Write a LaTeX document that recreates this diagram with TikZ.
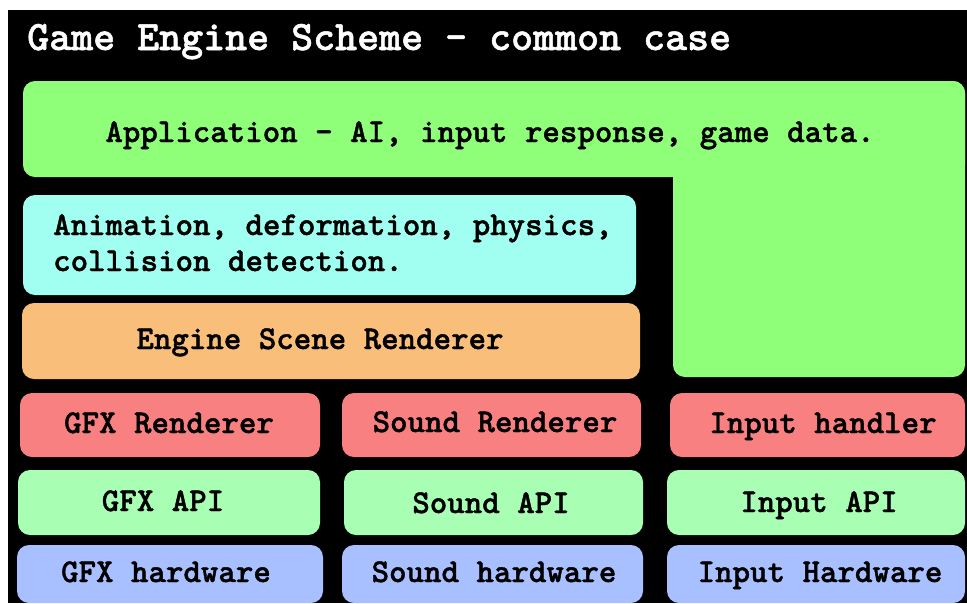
\documentclass[tikz,border=0pt]{standalone}
\usepackage{fontspec}
\newfontfamily\courb{lmmonolt10-bold.otf}[FakeBold=1.2]
\newcommand\lblfont{\courb\fontsize{33.3}{36}\selectfont}
\newcommand\ttlfont{\courb\fontsize{41.9}{44}\selectfont}
\definecolor{appg}{RGB}{143,255,122}
\definecolor{animc}{RGB}{160,255,240}
\definecolor{engo}{RGB}{248,190,122}
\definecolor{rendr}{RGB}{248,128,128}
\definecolor{apig}{RGB}{168,255,180}
\definecolor{hwb}{RGB}{168,192,255}
\begin{document}
\begin{tikzpicture}[x=1pt,y=-1pt,
  blk/.style={rounded corners=12pt, inner sep=0pt},
  lbl/.style={inner sep=0pt, font=\lblfont, text=black, anchor=base}]
\useasboundingbox (0,0) rectangle (967,603);
\fill[white] (0,0) rectangle (967,603);
\fill[black] (8,10) rectangle (967,603);
% title
\node[inner sep=0pt, font=\ttlfont, text=white, anchor=base west] (title) at (27,50) {Game Engine Scheme - common case};
% application L-shape
\fill[appg, rounded corners=12pt] (23,81) rectangle (965,177);
\fill[appg, rounded corners=12pt] (673,81) rectangle (965,377);
\node[lbl] (app) at (490,142) {Application - AI, input response, game data.};
% animation
\node[blk, fill=animc, minimum width=613pt, minimum height=100pt] (animbox) at (329.5,245) {};
\node[lbl, align=left, anchor=base west] (anim) at (53,271) {Animation, deformation, physics,\\collision detection.};
% engine
\node[blk, fill=engo, minimum width=618pt, minimum height=76pt] (engbox) at (331,341) {};
\node[lbl] (eng) at (320,349) {Engine Scene Renderer};
% renderers
\node[blk, fill=rendr, minimum width=300pt, minimum height=64pt] (gfxr) at (170,425) {};
\node[blk, fill=rendr, minimum width=299pt, minimum height=64pt] (sndr) at (491.5,425) {};
\node[blk, fill=rendr, minimum width=295pt, minimum height=64pt] (inph) at (817.5,425) {};
\node[lbl] (gfxrt) at (169,433) {GFX Renderer};
\node[lbl] (sndrt) at (495,432) {Sound Renderer};
\node[lbl] (inpht) at (823,433) {Input handler};
% APIs
\node[blk, fill=apig, minimum width=302pt, minimum height=65pt] (gfxa) at (169,502.5) {};
\node[blk, fill=apig, minimum width=299pt, minimum height=65pt] (snda) at (493.5,502.5) {};
\node[blk, fill=apig, minimum width=298pt, minimum height=65pt] (inpa) at (816,502.5) {};
\node[lbl] (gfxat) at (163,511) {GFX API};
\node[lbl] (sndat) at (491,513) {Sound API};
\node[lbl] (inpat) at (819,512) {Input API};
% hardware
\node[blk, fill=hwb, minimum width=306pt, minimum height=58pt] (gfxh) at (170,574) {};
\node[blk, fill=hwb, minimum width=301pt, minimum height=58pt] (sndh) at (492.5,574) {};
\node[blk, fill=hwb, minimum width=298pt, minimum height=58pt] (inph2) at (816,574) {};
\node[lbl] (gfxht) at (166,582) {GFX hardware};
\node[lbl] (sndht) at (494,582) {Sound hardware};
\node[lbl] (inpht2) at (820,582) {Input Hardware};
\end{tikzpicture}
\end{document}
